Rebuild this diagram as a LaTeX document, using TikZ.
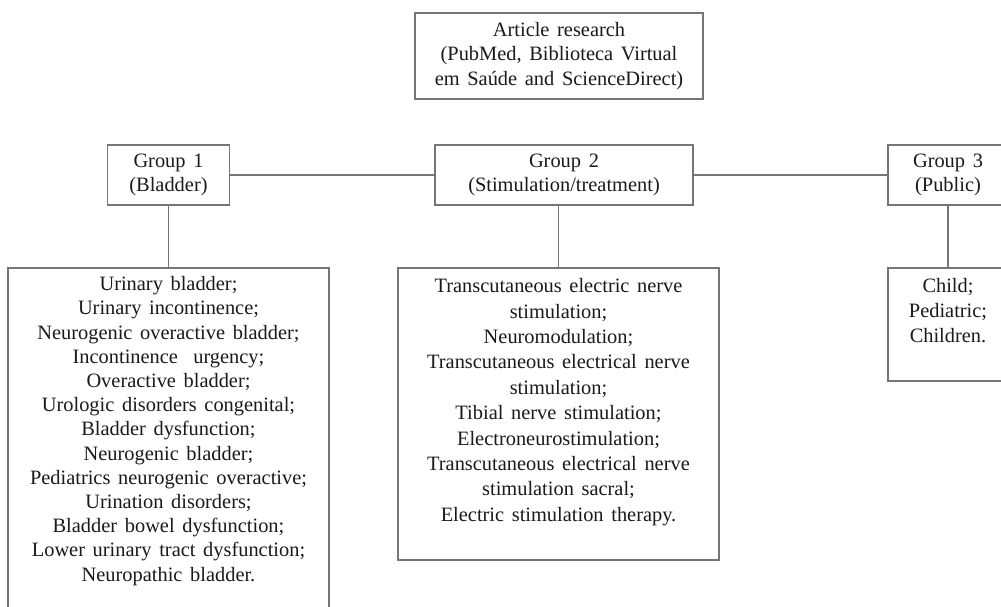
\documentclass[tikz,border=0pt]{standalone}
\usepackage{fontspec}
\setmainfont[WordSpace=1.5]{Liberation Serif}
\definecolor{linegray}{HTML}{767676}
\definecolor{textcol}{HTML}{1a1a1a}
\begin{document}
\begin{tikzpicture}[x=1pt,y=-1pt,
  box/.style={draw=linegray, line width=1.3pt, inner sep=0pt},
  lbl/.style={text=textcol, font=\fontsize{20.4}{24.5}\selectfont, align=center, inner sep=0pt},
  conn/.style={draw=linegray, line width=1.3pt}]
\clip (0,0) rectangle (1001,606);
\fill[white] (0,0) rectangle (1001,606);
% top box
\node[box, lbl, minimum width=288pt, minimum height=86pt] (top) at (559,56)
  {Article research\\(PubMed, Biblioteca Virtual\\em Saúde and ScienceDirect)};
% group boxes
\node[box, lbl, minimum width=122pt, minimum height=60pt] (g1) at (168.5,175)
  {Group 1\\(Bladder)};
\node[box, lbl, minimum width=258pt, minimum height=60pt] (g2) at (564,175)
  {Group 2\\(Stimulation/treatment)};
\node[box, lbl, minimum width=120pt, minimum height=60pt] (g3) at (948,175)
  {Group 3\\(Public)};
% list boxes
\node[box, minimum width=321pt, minimum height=352pt] (l1) at (168.5,444) {};
\node[box, minimum width=321pt, minimum height=292pt] (l2) at (558.5,414) {};
\node[box, minimum width=120pt, minimum height=113pt] (l3) at (948,324.5) {};
% list texts
\node[lbl, font=\fontsize{20.4}{24.2}\selectfont, anchor=north] (t1) at ([yshift=-9pt]l1.north)
  {Urinary bladder;\\Urinary incontinence;\\Neurogenic overactive bladder;\\Incontinence\ \ urgency;\\Overactive bladder;\\Urologic disorders congenital;\\Bladder dysfunction;\\Neurogenic bladder;\\Pediatrics neurogenic overactive;\\Urination disorders;\\Bladder bowel dysfunction;\\Lower urinary tract dysfunction;\\Neuropathic bladder.};
\node[lbl, font=\fontsize{20.4}{25.4}\selectfont, anchor=north] (t2) at ([yshift=-11pt]l2.north)
  {Transcutaneous electric nerve\\stimulation;\\Neuromodulation;\\Transcutaneous electrical nerve\\stimulation;\\Tibial nerve stimulation;\\Electroneurostimulation;\\Transcutaneous electrical nerve\\stimulation sacral;\\Electric stimulation therapy.};
\node[lbl, font=\fontsize{20.4}{25}\selectfont, anchor=north] (t3) at ([yshift=-11pt]l3.north)
  {Child;\\Pediatric;\\Children.};
% connectors
\draw[conn] (g1.east) -- (g2.west);
\draw[conn] (g2.east) -- (g3.west);
\draw[conn] (g1.south) -- (l1.north);
\draw[conn] (l2.north |- g2.south) -- (l2.north);
\draw[conn] (g3.south) -- (l3.north);
\end{tikzpicture}
\end{document}
